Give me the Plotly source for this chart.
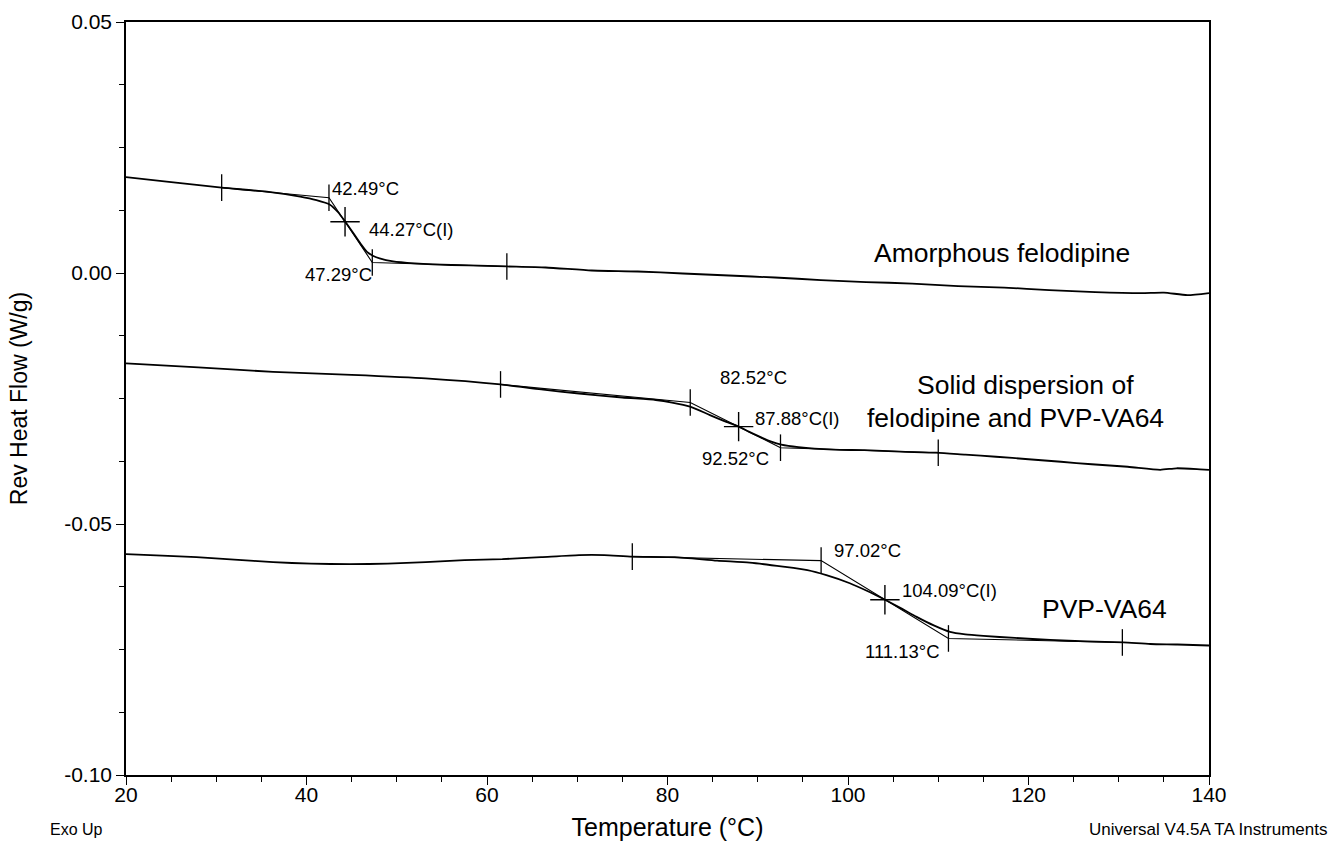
import plotly.graph_objects as go

# ---------------- data ----------------
# Amorphous felodipine
t_amorph = [20, 24.5, 30.6, 35.6, 39.3, 41.1, 42.6, 43.5, 44.3, 45.2, 46.0, 46.7, 47.4,
            48.1, 49.6, 52, 54.0, 58, 62.2, 66.5, 71.6, 76.7, 81.7, 86.8, 91.9, 97.0,
            102.0, 107.1, 112.2, 117.3, 122.3, 127.4, 132.5, 135.0, 137.6, 140]
hf_amorph = [0.0191, 0.0182, 0.0170, 0.0162, 0.0152, 0.0145, 0.0136, 0.0121, 0.0102, 0.0079,
             0.0058, 0.0042, 0.0034, 0.0029, 0.0023, 0.0019, 0.0017, 0.0015, 0.0013, 0.0011,
             0.0005, 0.0003, -0.0001, -0.0005, -0.0009, -0.0014, -0.0018, -0.0021, -0.0026,
             -0.0029, -0.0034, -0.0038, -0.0040, -0.0039, -0.0044, -0.0040]

# Solid dispersion of felodipine and PVP-VA64
t_disp = [20, 28, 36.3, 45, 53.2, 61.5, 66, 70.2, 75, 78.7, 80.5, 82.5, 84.7, 86.3, 87.9,
          89.0, 90.2, 91.5, 92.6, 94.5, 98.4, 101.8, 105.8, 109.8, 113, 116.4, 120, 123.6,
          127, 131, 134.6, 136.4, 139, 140]
hf_disp = [-0.0180, -0.0188, -0.0197, -0.0203, -0.0210, -0.0222, -0.0232, -0.0240, -0.0248,
           -0.0253, -0.0258, -0.0266, -0.0283, -0.0295, -0.0306, -0.0316, -0.0326, -0.0336,
           -0.0342, -0.0347, -0.0352, -0.0353, -0.0356, -0.0358, -0.0362, -0.0366, -0.0371,
           -0.0376, -0.0381, -0.0386, -0.0392, -0.0389, -0.0391, -0.0392]

# PVP-VA64
t_pvp = [20, 24, 27.8, 32, 36.3, 40.5, 44.8, 49, 53.2, 57.5, 61.7, 66, 70.2, 73, 76.1, 80.8,
         85.5, 89.1, 92.8, 95.5, 97.6, 100.2, 102.2, 104.1, 106, 107.6, 109.5, 111.3, 113,
         115.0, 118.5, 122.4, 126.5, 130.5, 133.5, 136.5, 140]
hf_pvp = [-0.0560, -0.0563, -0.0566, -0.0571, -0.0576, -0.0579, -0.0580, -0.0579, -0.0576,
          -0.0572, -0.0570, -0.0566, -0.0562, -0.0562, -0.0565, -0.0566, -0.0573, -0.0577,
          -0.0585, -0.0592, -0.0602, -0.0618, -0.0634, -0.0651, -0.0669, -0.0685, -0.0702,
          -0.0715, -0.0720, -0.0723, -0.0727, -0.0731, -0.0734, -0.0736, -0.0739, -0.0740,
          -0.0742]

# Glass-transition constructions: [baseline start, onset, end, baseline end]
tg_amorph_t = [30.6, 42.49, 47.29, 62.2]
tg_amorph_hf = [0.0170, 0.0150, 0.0021, 0.0013]
tg_amorph_infl = (44.27, 0.0102)

tg_disp_t = [61.5, 82.52, 92.52, 110.0]
tg_disp_hf = [-0.0222, -0.0258, -0.0348, -0.0358]
tg_disp_infl = (87.88, -0.0306)

tg_pvp_t = [76.1, 97.02, 111.13, 130.4]
tg_pvp_hf = [-0.0565, -0.0573, -0.0728, -0.0736]
tg_pvp_infl = (104.09, -0.0651)

# Labels of the analysis points: (text, x, y, xanchor)
point_labels = [
    ("42.49°C", 42.6, 0.0168, "left"),
    ("44.27°C(I)", 46.7, 0.0087, "left"),
    ("47.29°C", 47.5, -0.0003, "right"),
    ("82.52°C", 85.6, -0.0209, "left"),
    ("87.88°C(I)", 89.5, -0.0290, "left"),
    ("92.52°C", 83.6, -0.0370, "left"),
    ("97.02°C", 98.2, -0.0553, "left"),
    ("104.09°C(I)", 105.8, -0.0633, "left"),
    ("111.13°C", 110.4, -0.0753, "right"),
]

# Sample names: (text, x, y)
sample_labels = [
    ("Amorphous felodipine", 117.1, 0.0040),
    ("Solid dispersion of", 119.7, -0.0223),
    ("felodipine and PVP-VA64", 118.6, -0.0289),
    ("PVP-VA64", 128.4, -0.0669),
]

x_ticks = [20, 40, 60, 80, 100, 120, 140]
y_ticks = [-0.10, -0.05, 0.00, 0.05]
y_ticktext = ["-0.10", "-0.05", "0.00", "0.05"]

FONT = "Arial, Liberation Sans, Helvetica, sans-serif"

# ---------------- figure ----------------
fig = go.Figure()

for t, hf in [(t_amorph, hf_amorph), (t_disp, hf_disp), (t_pvp, hf_pvp)]:
    fig.add_trace(go.Scatter(x=t, y=hf, mode="lines",
                             line=dict(color="black", width=1.8, shape="spline", smoothing=0.6),
                             hoverinfo="skip"))

for tt, hh, infl in [(tg_amorph_t, tg_amorph_hf, tg_amorph_infl),
                     (tg_disp_t, tg_disp_hf, tg_disp_infl),
                     (tg_pvp_t, tg_pvp_hf, tg_pvp_infl)]:
    # construction polyline with vertical tick marks at every point
    fig.add_trace(go.Scatter(x=tt, y=hh, mode="lines+markers",
                             line=dict(color="black", width=1.1),
                             marker=dict(symbol="line-ns", size=19, color="black",
                                         line=dict(color="black", width=1.3)),
                             hoverinfo="skip"))
    # inflection cross
    fig.add_trace(go.Scatter(x=[infl[0]], y=[infl[1]], mode="markers",
                             marker=dict(symbol="cross-thin", size=21, color="black",
                                         line=dict(color="black", width=1.4)),
                             hoverinfo="skip"))

annotations = []
for text, x, y, xa in point_labels:
    annotations.append(dict(x=x, y=y, xref="x", yref="y", text=text, showarrow=False,
                            xanchor=xa, yanchor="middle",
                            font=dict(family=FONT, size=18.5, color="black")))
for text, x, y in sample_labels:
    annotations.append(dict(x=x, y=y, xref="x", yref="y", text=text, showarrow=False,
                            xanchor="center", yanchor="middle",
                            font=dict(family=FONT, size=26.5, color="black")))

annotations.append(dict(x=(48 - 126) / 1083, y=(775 - 829) / 753, xref="paper", yref="paper",
                        text="Exo Up", showarrow=False, xanchor="left", yanchor="middle",
                        font=dict(family=FONT, size=16, color="black")))
annotations.append(dict(x=(1329 - 126) / 1083, y=(775 - 829) / 753, xref="paper", yref="paper",
                        text="Universal V4.5A TA Instruments", showarrow=False,
                        xanchor="right", yanchor="middle",
                        font=dict(family=FONT, size=17, color="black")))

fig.update_layout(
    width=1331, height=844,
    margin=dict(l=126, r=122, t=22, b=69, autoexpand=False),
    paper_bgcolor="white", plot_bgcolor="white",
    showlegend=False,
    font=dict(family=FONT, color="black"),
    annotations=annotations,
)

fig.update_xaxes(
    range=[20, 140], tickvals=x_ticks, ticks="outside", ticklen=8, tickwidth=1.3,
    tickcolor="black", showline=True, linecolor="black", linewidth=1.5, mirror=True,
    showgrid=False, zeroline=False, automargin=False, ticklabelstandoff=-8,
    tickfont=dict(family=FONT, size=21, color="black"),
    minor=dict(dtick=5, ticks="outside", ticklen=5, tickcolor="black", tickwidth=1.2, showgrid=False),
    title=dict(text="Temperature (°C)", font=dict(family=FONT, size=25, color="black"), standoff=14),
)
fig.update_yaxes(
    range=[-0.10, 0.05], tickvals=y_ticks, ticktext=y_ticktext, ticks="outside", ticklen=8,
    tickwidth=1.3, tickcolor="black", showline=True, linecolor="black", linewidth=1.5,
    mirror=True, showgrid=False, zeroline=False, automargin=False,
    tickfont=dict(family=FONT, size=21, color="black"),
    minor=dict(dtick=0.0125, tick0=0, ticks="outside", ticklen=5, tickcolor="black", tickwidth=1.2,
               showgrid=False),
    title=dict(text="Rev Heat Flow (W/g)", font=dict(family=FONT, size=23, color="black"), standoff=30),
)

fig.write_html("out.html", config={"displayModeBar": False},
               post_script="document.body.style.margin='0';document.body.style.overflow='hidden';")
